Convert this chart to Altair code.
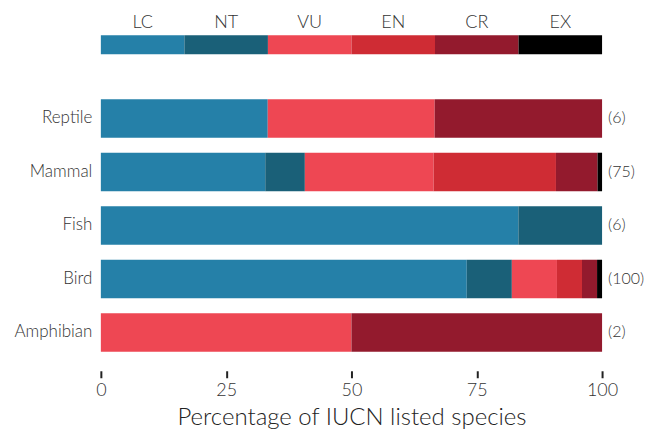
import altair as alt
import pandas as pd

classes = ["Reptile", "Mammal", "Fish", "Bird", "Amphibian"]
counts = [6, 75, 6, 100, 2]
statuses = ["LC", "NT", "VU", "EN", "CR", "EX"]
colors = ["#2580A8", "#1A6078", "#EE4753", "#CF2C34", "#931A2D", "#000000"]

LC = [33.3, 32.8, 83.3, 73.0, 0.0]
NT = [0.0, 7.9, 16.7, 9.0, 0.0]
VU = [33.3, 25.7, 0.0, 9.0, 50.0]
EN = [0.0, 24.4, 0.0, 5.0, 0.0]
CR = [33.4, 8.3, 0.0, 3.0, 50.0]
EX = [0.0, 0.9, 0.0, 1.0, 0.0]

series = {"LC": LC, "NT": NT, "VU": VU, "EN": EN, "CR": CR, "EX": EX}
rows = []
for si, s in enumerate(statuses):
    for ci, c in enumerate(classes):
        rows.append({"cls": c, "status": s, "order": si, "pct": series[s][ci]})
df = pd.DataFrame(rows)

count_df = pd.DataFrame({"cls": classes, "label": [f"({n})" for n in counts], "pos": [100] * len(classes)})

seg = 100 / len(statuses)
leg_df = pd.DataFrame({
    "status": statuses,
    "start": [i * seg for i in range(len(statuses))],
    "end": [(i + 1) * seg for i in range(len(statuses))],
    "mid": [(i + 0.5) * seg for i in range(len(statuses))],
    "row": ["legend"] * len(statuses),
})

FONT = "Lato"
TXT = "#333333"
W = 502
color_scale = alt.Scale(domain=statuses, range=colors)
x_scale = alt.Scale(domain=[0, 100], nice=False)

yaxis_common = dict(title=None, ticks=False, domain=False, minExtent=79, maxExtent=79)

bars = alt.Chart(df).mark_bar().encode(
    x=alt.X("pct:Q", stack="zero", scale=x_scale,
            axis=alt.Axis(values=[0, 25, 50, 75, 100], title="Percentage of IUCN listed species",
                          grid=False, domain=False, tickSize=7, tickWidth=2, tickColor="#222222",
                          labelFontSize=18, labelColor=TXT, labelPadding=4, labelFont=FONT,
                          labelFontWeight=300, labelFlush=False,
                          titleFontSize=24, titleFontWeight=300, titleColor="#222222",
                          titlePadding=6, titleFont=FONT)),
    y=alt.Y("cls:N", sort=classes, scale=alt.Scale(paddingInner=0.28, paddingOuter=0.355),
            axis=alt.Axis(labelPadding=9, labelFontSize=17, labelColor=TXT, labelFont=FONT,
                          labelFontWeight=300, **yaxis_common)),
    color=alt.Color("status:N", scale=color_scale, legend=None),
    order=alt.Order("order:Q"),
)

count_text = alt.Chart(count_df).mark_text(align="left", baseline="middle", dx=6, fontSize=16,
                                           fontWeight=300, color=TXT, font=FONT).encode(
    x=alt.X("pos:Q", scale=x_scale),
    y=alt.Y("cls:N", sort=classes),
    text="label:N",
)

main = alt.layer(bars, count_text).properties(width=W, height=291)

leg_rect = alt.Chart(leg_df).mark_rect().encode(
    x=alt.X("start:Q", scale=x_scale, axis=None),
    x2="end:Q",
    y=alt.Y("row:N", scale=alt.Scale(paddingInner=0, paddingOuter=0),
            axis=alt.Axis(labels=False, **yaxis_common)),
    color=alt.Color("status:N", scale=color_scale, legend=None),
)
leg_text = alt.Chart(leg_df).mark_text(baseline="middle", fontSize=18, fontWeight=300,
                                       color=TXT, font=FONT).encode(
    x=alt.X("mid:Q", scale=x_scale, axis=None),
    y=alt.value(-12.5),
    text="status:N",
)
legend = alt.layer(leg_rect, leg_text).properties(width=W, height=19)

chart = alt.vconcat(legend, main, spacing=26).properties(
    padding={"left": 5, "top": 5, "right": 0, "bottom": 0}
).configure(font=FONT).configure_view(stroke=None)

chart.save("out.html", embed_options={"renderer": "svg", "actions": False})
